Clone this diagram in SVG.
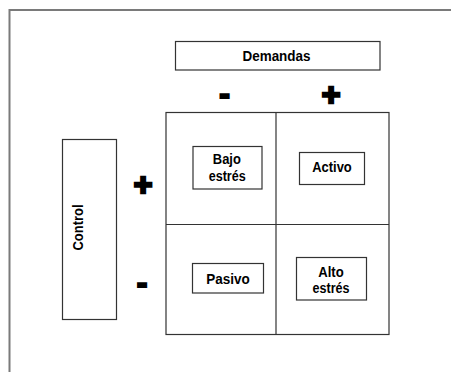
<svg xmlns="http://www.w3.org/2000/svg" width="451" height="372" viewBox="0 0 451 372">
<style>
.box{fill:#fff;stroke:#333;stroke-width:1.2}
.t{font-family:"Liberation Sans",Arial,sans-serif;font-weight:bold;font-size:14px;fill:#000;text-anchor:middle}
.sign{font-family:"Liberation Sans",Arial,sans-serif;font-weight:900;font-size:32px;fill:#000;stroke:#000;text-anchor:middle}
.grid{fill:none;stroke:#333;stroke-width:1.2}
</style>
<rect width="451" height="372" fill="#fff"/>
<path d="M9.5,372 V10 H451" fill="none" stroke="#7a7a7a" stroke-width="2"/>
<g id="demandas">
<rect class="box" x="175.5" y="41.5" width="204.5" height="28.5"/>
<text class="t" x="276.5" y="61" textLength="68" lengthAdjust="spacingAndGlyphs">Demandas</text>
</g>
<g id="control">
<rect class="box" x="62.5" y="139.5" width="54" height="180"/>
<text class="t" transform="translate(83.3,227.5) rotate(-90)" textLength="46" lengthAdjust="spacingAndGlyphs">Control</text>
</g>
<g id="signs">
<text class="sign" x="224.7" y="103.8" stroke-width="2">-</text>
<text class="sign" x="331.2" y="105" stroke-width="2.5">+</text>
<text class="sign" x="143" y="194.5" stroke-width="2.5">+</text>
<text class="sign" x="142.2" y="293.3" stroke-width="2">-</text>
</g>
<g id="connectors">
<rect class="grid" x="166" y="112.5" width="223" height="222"/>
<line class="grid" x1="276" y1="112.5" x2="276" y2="334.5"/>
<line class="grid" x1="166" y1="224.5" x2="389" y2="224.5"/>
</g>
<g id="bajo">
<rect class="box" x="193" y="146.5" width="69" height="42.5"/>
<text class="t" x="226.8" y="164" textLength="28" lengthAdjust="spacingAndGlyphs">Bajo</text>
<text class="t" x="227.2" y="180.5" textLength="37" lengthAdjust="spacingAndGlyphs">estrés</text>
</g>
<g id="activo">
<rect class="box" x="299.5" y="152.5" width="65" height="32"/>
<text class="t" x="332" y="172" textLength="39.5" lengthAdjust="spacingAndGlyphs">Activo</text>
</g>
<g id="pasivo">
<rect class="box" x="192.5" y="263.5" width="71" height="29.5"/>
<text class="t" x="228" y="284" textLength="43.5" lengthAdjust="spacingAndGlyphs">Pasivo</text>
</g>
<g id="alto">
<rect class="box" x="296.5" y="257.5" width="70" height="42.5"/>
<text class="t" x="331" y="277" textLength="25.5" lengthAdjust="spacingAndGlyphs">Alto</text>
<text class="t" x="331" y="293" textLength="37" lengthAdjust="spacingAndGlyphs">estrés</text>
</g>
</svg>
